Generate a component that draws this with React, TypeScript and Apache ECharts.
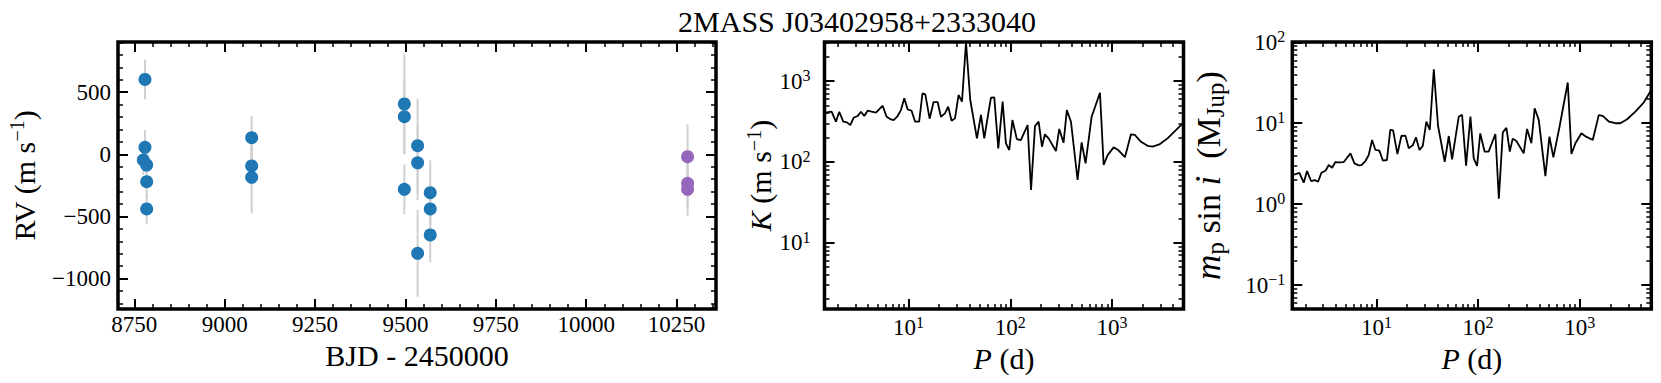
import React, { useEffect, useRef } from 'react';
import * as echarts from 'echarts';

const FONT = 'Liberation Serif';

// ---------- Panel 1: radial velocities ----------
const blueTime = [8779.6, 8779.6, 8775.0, 8784.3, 8784.3, 8784.3, 9074.7, 9074.7, 9074.7, 9497, 9497, 9497, 9533.7, 9533.7, 9533.7, 9568.6, 9568.6, 9568.6];
const blueRV = [603, 56, -46, -86, -220, -440, 134, -94, -185, 405, 303, -282, 69, -68, -797, -309, -440, -649];
const blueErr = [160, 140, 120, 130, 130, 123, 174, 150, 290, 405, 300, 200, 380, 300, 350, 260, 200, 220];
const purpleTime = [10280.4, 10280.4, 10280.4];
const purpleRV = [-19, -233, -282];
const purpleErr = [260, 200, 212];

const timeTicks = [8750, 9000, 9250, 9500, 9750, 10000, 10250];
const rvTicks = [-1000, -500, 0, 500];
const timeRange = [8705, 10359];
const rvRange = [-1245, 904];

// ---------- Panels 2 & 3: periodograms ----------
const periods = [
  1.51, 1.75, 1.93, 2.08, 2.28, 2.48, 2.67, 2.88, 3.16, 3.40,
  3.67, 3.95, 4.33, 4.78, 5.56, 6.08, 6.71, 7.13, 7.80, 8.41,
  9.07, 9.79, 10.7, 11.6, 12.7, 13.7, 14.6, 16.1, 17.6, 19.3,
  20.8, 22.8, 24.5, 26.5, 28.6, 31.0, 33.5, 36.7, 40.4, 47.0,
  51.5, 55.5, 61.2, 64.6, 69.6, 76.2, 84.1, 90.6, 97.7, 105,
  116, 127, 148, 160, 175, 190, 205, 219, 238, 281,
  303, 334, 360, 395, 459, 503, 550, 631, 762, 828,
  906, 1038, 1153, 1342, 1536, 1682, 1928, 2240, 2510, 2920,
  3520, 4250, 5050,
];
const kValues = [
  406, 417, 314, 417, 314, 308, 285, 351, 369, 417,
  369, 429, 417, 406, 495, 362, 335, 329, 369, 437,
  610, 446, 429, 314, 314, 703, 684, 342, 549, 549,
  362, 398, 481, 323, 345, 671, 555, 3000, 582, 195,
  380, 195, 417, 622, 628, 147, 555, 169, 140, 329,
  191, 186, 285, 44.8, 277, 314, 154, 219, 195, 136,
  255, 172, 437, 314, 59.6, 174, 95.7, 362, 717, 91.3,
  121, 151, 140, 114, 219, 215, 177, 158, 154, 164,
  195, 247, 305,
];
const massValues = [
  2.29, 2.44, 1.84, 2.56, 1.93, 1.98, 1.89, 2.44, 2.59, 3.04,
  2.82, 3.31, 3.28, 3.31, 4.24, 3.19, 3.01, 3.04, 3.41, 4.05,
  6.21, 4.67, 4.58, 3.44, 3.51, 8.26, 8.18, 4.16, 6.95, 7.03,
  4.90, 5.33, 6.70, 4.67, 5.24, 10.5, 8.26, 46.5, 9.25, 3.34,
  6.95, 3.57, 7.87, 12.1, 12.7, 2.99, 12.1, 3.68, 2.96, 7.50,
  4.45, 4.45, 7.36, 1.17, 7.72, 8.75, 4.45, 6.45, 6.03, 4.24,
  8.50, 5.65, 15.3, 11.0, 2.22, 6.82, 3.78, 8.91, 31.9, 4.16,
  5.65, 7.50, 6.82, 6.21, 12.6, 12.3, 10.5, 10.0, 10.0, 11.2,
  13.9, 18.0, 25.8,
];

const periodTicks = [10, 100, 1000];
const kTicks = [10, 100, 1000];
const massTicks = [0.1, 1, 10, 100];
const periodRange = [1.49, 5050];
const kRange = [1.51, 3040];
const massRange = [0.0505, 101];

const TITLE = '2MASS J03402958+2333040';

// ---------- helpers ----------
function linearMinors(min: number, max: number, step: number, majors: number[]) {
  const out: number[] = [];
  for (let v = Math.ceil(min / step) * step; v <= max; v += step) {
    if (!majors.includes(v)) out.push(v);
  }
  return out;
}
function logMinors(min: number, max: number) {
  const out: number[] = [];
  for (let d = Math.floor(Math.log10(min)); d <= Math.ceil(Math.log10(max)); d++) {
    for (let k = 2; k <= 9; k++) {
      const v = +(k * Math.pow(10, d)).toPrecision(6);
      if (v >= min && v <= max) out.push(v);
    }
  }
  return out;
}
const minusFmt = (v: number) => (v < 0 ? '\u2212' + -v : String(v));
const powFmt = (v: number) => {
  const e = Math.round(Math.log10(v));
  return '{b|10}{s|' + (e < 0 ? '\u2212' + -e : e) + '}';
};
const tickRich = {
  b: { fontSize: 23, fontFamily: FONT, color: '#000' },
  s: { fontSize: 16, fontFamily: FONT, color: '#000', padding: [0, 0, 11, 0] },
};
const nameRich = {
  r: { fontSize: 30, fontFamily: FONT, color: '#000' },
  i: { fontSize: 30, fontFamily: FONT, color: '#000', fontStyle: 'italic' },
  s: { fontSize: 20, fontFamily: FONT, color: '#000', padding: [0, 0, 14, 0] },
  R: { fontSize: 34, fontFamily: FONT, color: '#000' },
  I: { fontSize: 35, fontFamily: FONT, color: '#000', fontStyle: 'italic' },
  sub: { fontSize: 25, fontFamily: FONT, color: '#000', padding: [14, 0, 0, 0] },
};

type Spec = {
  type: 'value' | 'log';
  range: number[];
  majors: number[];
  minors: number[];
  fmt: (v: number) => string;
  rich?: any;
  margin: number;
  name: string;
  nameGap: number;
};

function makeAxes(dim: 'x' | 'y', gridIndex: number, s: Spec) {
  const posA = dim === 'x' ? 'bottom' : 'left';
  const posB = dim === 'x' ? 'top' : 'right';
  const one = (position: string, ticks: number[], len: number, width: number, labelled: boolean) => {
    const ax: any = {
      type: s.type,
      gridIndex,
      position,
      min: s.range[0],
      max: s.range[1],
      axisLine: { show: false, onZero: false },
      splitLine: { show: false },
      minorTick: { show: false },
      axisTick: { show: true, inside: true, length: len, lineStyle: { color: '#000', width }, customValues: ticks },
      axisLabel: labelled
        ? {
            show: true,
            customValues: s.majors,
            formatter: s.fmt,
            margin: s.margin,
            color: '#000',
            fontFamily: FONT,
            fontSize: 23,
            rich: s.rich,
          }
        : { show: false },
    };
    if (s.type === 'log') ax.logBase = 10;
    if (labelled) {
      ax.name = s.name;
      ax.nameLocation = 'middle';
      ax.nameGap = s.nameGap;
      ax.nameTextStyle = { fontSize: 30, fontFamily: FONT, color: '#000', rich: nameRich };
    }
    return ax;
  };
  return [
    one(posA, s.majors, 10, 2, true),
    one(posA, s.minors, 5, 1.5, false),
    one(posB, s.majors, 10, 2, false),
    one(posB, s.minors, 5, 1.5, false),
  ];
}

const errorBars = (xIdx: number, t: number[], v: number[], e: number[]) => ({
  type: 'custom',
  xAxisIndex: xIdx,
  yAxisIndex: xIdx,
  data: t.map((x, i) => [x, v[i], e[i]]),
  encode: { x: 0, y: 1 },
  z: 1,
  renderItem: (_p: any, api: any) => {
    const x = api.value(0);
    const y = api.value(1);
    const err = api.value(2);
    const a = api.coord([x, y - err]);
    const b = api.coord([x, y + err]);
    return {
      type: 'line',
      shape: { x1: a[0], y1: a[1], x2: b[0], y2: b[1] },
      style: { stroke: '#d0d0d0', lineWidth: 2 },
    };
  },
});

function buildOption() {
  const grids = [
    { left: 118, top: 42, width: 598, height: 267 },
    { left: 824.5, top: 42, width: 359, height: 267 },
    { left: 1292.3, top: 42, width: 359, height: 267 },
  ].map((g) => ({
    ...g,
    show: true,
    borderWidth: 3.5,
    borderColor: '#000',
    backgroundColor: 'transparent',
    containLabel: false,
    outerBoundsMode: 'none',
  }));

  const xAxis = [
    ...makeAxes('x', 0, {
      type: 'value', range: timeRange, majors: timeTicks,
      minors: linearMinors(timeRange[0], timeRange[1], 50, timeTicks),
      fmt: minusFmt, margin: 4, name: 'BJD - 2450000', nameGap: 18,
    }),
    ...makeAxes('x', 1, {
      type: 'log', range: periodRange, majors: periodTicks, minors: logMinors(periodRange[0], periodRange[1]),
      fmt: powFmt, rich: tickRich, margin: 5, name: '{i|P}{r| (d)}', nameGap: 27,
    }),
    ...makeAxes('x', 2, {
      type: 'log', range: periodRange, majors: periodTicks, minors: logMinors(periodRange[0], periodRange[1]),
      fmt: powFmt, rich: tickRich, margin: 5, name: '{i|P}{r| (d)}', nameGap: 27,
    }),
  ];
  const yAxis = [
    ...makeAxes('y', 0, {
      type: 'value', range: rvRange, majors: rvTicks,
      minors: linearMinors(rvRange[0], rvRange[1], 100, rvTicks),
      fmt: minusFmt, margin: 7, name: '{r|RV (m s}{s|\u22121}{r|)}', nameGap: 77,
    }),
    ...makeAxes('y', 1, {
      type: 'log', range: kRange, majors: kTicks, minors: logMinors(kRange[0], kRange[1]),
      fmt: powFmt, rich: tickRich, margin: 14, name: '{i|K}{r| (m s}{s|\u22121}{r|)}', nameGap: 47,
    }),
    ...makeAxes('y', 2, {
      type: 'log', range: massRange, majors: massTicks, minors: logMinors(massRange[0], massRange[1]),
      fmt: powFmt, rich: tickRich, margin: 7,
      name: '{I|m}{sub|p}{R| sin }{I|i}{R|  (M}{sub|Jup}{R|)}', nameGap: 64,
    }),
  ];

  return {
    animation: false,
    textStyle: { fontFamily: FONT, color: '#000' },
    grid: grids,
    xAxis,
    yAxis,
    graphic: [
      {
        type: 'text',
        x: 857,
        y: 21.6,
        style: {
          text: TITLE,
          fontFamily: FONT,
          fontSize: 30,
          fill: '#000',
          align: 'center',
          verticalAlign: 'middle',
        },
      },
    ],
    series: [
      errorBars(0, blueTime, blueRV, blueErr),
      errorBars(0, purpleTime, purpleRV, purpleErr),
      {
        type: 'scatter',
        xAxisIndex: 0,
        yAxisIndex: 0,
        data: blueTime.map((t, i) => [t, blueRV[i]]),
        symbolSize: 13,
        itemStyle: { color: '#1f77b4', opacity: 1 },
        z: 3,
      },
      {
        type: 'scatter',
        xAxisIndex: 0,
        yAxisIndex: 0,
        data: purpleTime.map((t, i) => [t, purpleRV[i]]),
        symbolSize: 13,
        itemStyle: { color: '#9467bd', opacity: 1 },
        z: 3,
      },
      {
        type: 'line',
        xAxisIndex: 4,
        yAxisIndex: 4,
        data: periods.map((p, i) => [p, kValues[i]]),
        showSymbol: false,
        symbol: 'none',
        lineStyle: { color: '#000', width: 1.8 },
        clip: true,
        z: 3,
      },
      {
        type: 'line',
        xAxisIndex: 8,
        yAxisIndex: 8,
        data: periods.map((p, i) => [p, massValues[i]]),
        showSymbol: false,
        symbol: 'none',
        lineStyle: { color: '#000', width: 1.8 },
        clip: true,
        z: 3,
      },
    ],
  };
}

export default function App() {
  const ref = useRef<HTMLDivElement>(null);
  useEffect(() => {
    if (!ref.current) return;
    const chart = echarts.init(ref.current, null, { renderer: 'svg' });
    chart.setOption(buildOption() as any);
    return () => chart.dispose();
  }, []);
  return (
    <div
      ref={ref}
      style={{ position: 'absolute', left: 0, top: 0, width: 1661, height: 383, background: '#fff' }}
    />
  );
}
